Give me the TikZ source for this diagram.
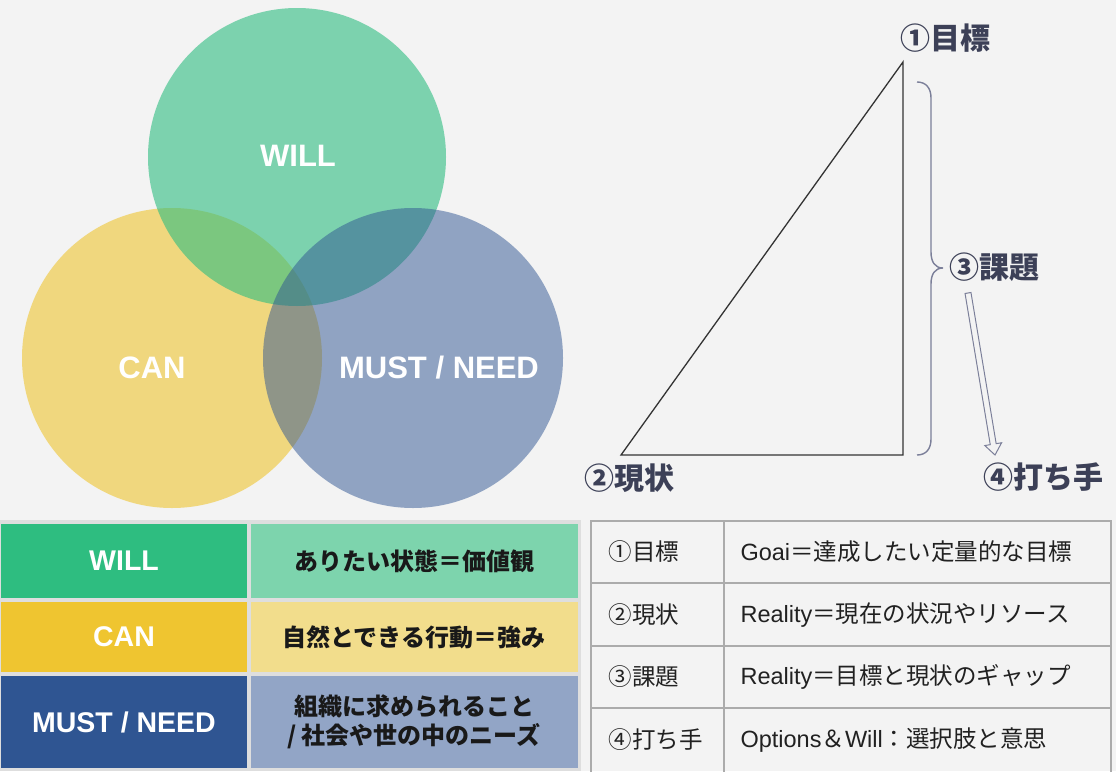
\documentclass[tikz,border=0pt]{standalone}
\usepackage{fontspec}
\setmainfont{Liberation Sans}
\newfontfamily\jp{Noto Sans CJK JP}
\usetikzlibrary{calc}
\definecolor{bg}{HTML}{F3F3F3}
\definecolor{willC}{HTML}{2EBD80}
\definecolor{canC}{HTML}{EFC530}
\definecolor{mustC}{HTML}{2F5592}
\definecolor{willL}{HTML}{7DD4AD}
\definecolor{canL}{HTML}{F2DD8C}
\definecolor{mustL}{HTML}{92A5C6}
\definecolor{slate}{HTML}{3C4057}
\definecolor{braceC}{HTML}{7B7F99}
\definecolor{gridC}{HTML}{ABABAB}
\definecolor{tabbg}{HTML}{DEDEDE}
\tikzset{
  vlabel/.style={text=white, font=\fontsize{31}{35}\selectfont\bfseries},
  tlabel/.style={text=white, font=\fontsize{28.5}{32}\selectfont\bfseries},
  jlabel/.style={text=black!90, font=\fontsize{24}{29}\selectfont\jp\bfseries, align=center},
  trilabel/.style={text=slate, font=\fontsize{30}{34}\selectfont\jp\bfseries},
  rtext/.style={text=black!87, font=\fontsize{23.5}{27}\selectfont, anchor=west},
}
\begin{document}
\begin{tikzpicture}[x=1pt,y=-1pt]
\fill[bg] (0,0) rectangle (1116,771);
\useasboundingbox (0,0) rectangle (1116,771);

% Venn diagram
\fill[canC, fill opacity=0.6] (172,358) circle[radius=150pt];
\fill[willC, fill opacity=0.6] (297,157) circle[radius=149pt];
\fill[mustC, fill opacity=0.5] (413,358) circle[radius=150pt];
\node[vlabel] (vwill) at (298,156) {WILL};
\node[vlabel] (vcan) at (152,368) {CAN};
\node[vlabel] (vmust) at (439,368) {MUST / NEED};

% Triangle
\coordinate (tTop) at (903,62);
\coordinate (tBL) at (621,455);
\coordinate (tBR) at (903,455);
\draw[black!80, line width=1.3pt, line join=miter] (tTop) -- (tBR) -- (tBL) -- cycle;

\node[trilabel] (goal) at (945,38) {①目標};
\node[trilabel] (now) at (629,478) {②現状};
\node[trilabel, anchor=west] (issue) at (946,267) {③課題};
\node[trilabel, anchor=west] (action) at (980,477) {④打ち手};

% Brace
\draw[braceC, line width=1.4pt]
  (917,82) .. controls (926,82) and (931,88) .. (931,98)
  -- (931,252) .. controls (931,262) and (935,268) .. (943,268)
  .. controls (935,268) and (931,274) .. (931,284)
  -- (931,439) .. controls (931,449) and (926,455) .. (917,455);

% Hollow arrow
\coordinate (arrS) at (968,293);
\coordinate (arrE) at (995,455);
\coordinate (hb) at ($(arrE)!11pt!(arrS)$);
\draw[braceC, line width=1pt, fill=bg, line join=miter]
  ($(arrS)!3pt!90:(arrE)$) -- ($(hb)!3pt!90:(arrE)$) -- ($(hb)!8.5pt!90:(arrE)$)
  -- (arrE) -- ($(hb)!8.5pt!-90:(arrE)$) -- ($(hb)!3pt!-90:(arrE)$)
  -- ($(arrS)!3pt!-90:(arrE)$) -- cycle;

% Left table
\fill[tabbg] (0,520) rectangle (581,771);
\fill[willC] (1,524) rectangle (247,598);
\fill[willL] (251,524) rectangle (578,598);
\fill[canC] (1,602) rectangle (247,672);
\fill[canL] (251,602) rectangle (578,672);
\fill[mustC] (1,676) rectangle (247,768);
\fill[mustL] (251,676) rectangle (578,768);
\node[tlabel] (twill) at (124,561) {WILL};
\node[jlabel] (jwill) at (414,561) {ありたい状態＝価値観};
\node[tlabel] (tcan) at (124,637) {CAN};
\node[jlabel] (jcan) at (414,637) {自然とできる行動＝強み};
\node[tlabel] (tmust) at (124,722) {MUST / NEED};
\node[jlabel] (jmust) at (414,722) {組織に求められること\\/ 社会や世の中のニーズ};

% Right table
\draw[gridC, line width=1.5pt] (591,521) rectangle (1111,780);
\draw[gridC, line width=1.5pt] (591,583) -- (1111,583);
\draw[gridC, line width=1.5pt] (591,646) -- (1111,646);
\draw[gridC, line width=1.5pt] (591,708) -- (1111,708);
\draw[gridC, line width=1.5pt] (724,521) -- (724,780);

\node[rtext] (r1a) at (605,552) {\jp ①目標};
\node[rtext] (r1b) at (737,552) {Goai{\jp ＝達成したい定量的な目標}};
\node[rtext] (r2a) at (605,615) {\jp ②現状};
\node[rtext] (r2b) at (737,615) {Reality{\jp ＝現在の状況やリソース}};
\node[rtext] (r3a) at (605,677) {\jp ③課題};
\node[rtext] (r3b) at (737,677) {Reality{\jp ＝目標と現状のギャップ}};
\node[rtext] (r4a) at (605,740) {\jp ④打ち手};
\node[rtext] (r4b) at (737,740) {Options{\jp ＆}Will{\jp ：選択肢と意思}};
\end{tikzpicture}
\end{document}
